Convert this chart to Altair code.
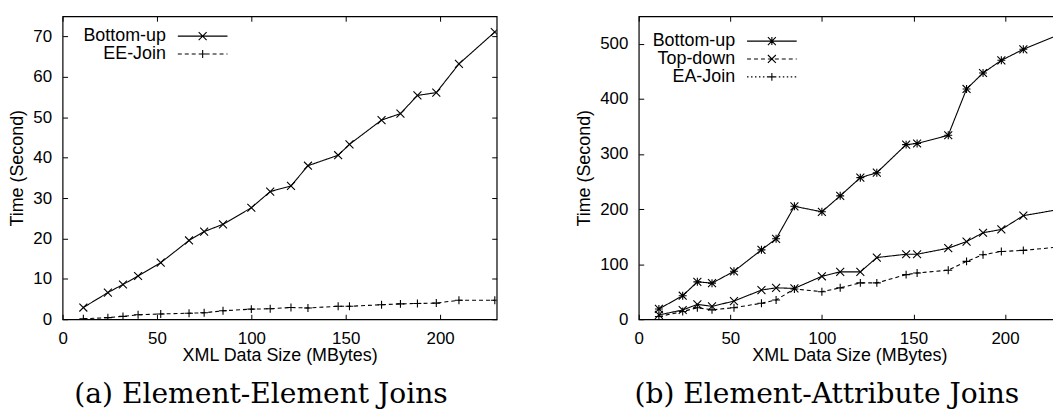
import altair as alt
import pandas as pd

# ---------------- data ----------------
x_sizes = [11, 24, 32, 40, 52, 67, 75, 85, 100, 110, 121, 130, 146, 152, 169, 179, 188, 198, 210, 229]

ee_series = ["Bottom-up", "EE-Join"]
ee_bottom_up = [2.9, 6.6, 8.6, 10.7, 14.0, 19.5, 21.7, 23.5, 27.6, 31.6, 33.0, 38.0, 40.6, 43.3, 49.3, 50.9, 55.4, 56.1, 63.2, 71.1]
ee_join = [0.1, 0.4, 0.7, 1.1, 1.3, 1.5, 1.6, 2.1, 2.5, 2.6, 2.9, 2.8, 3.2, 3.2, 3.6, 3.8, 3.9, 4.0, 4.7, 4.7]

ea_series = ["Bottom-up", "Top-down", "EA-Join"]
ea_bottom_up = [18.7, 42.7, 67.9, 65.5, 87, 126, 146, 205, 195, 224, 257, 266, 317, 319, 334, 418, 447, 470, 490, 516]
ea_top_down = [7.8, 16.8, 27, 23.4, 33, 53, 57, 56, 78, 86, 86, 112, 118, 118, 129, 141, 157, 163, 188, 199]
ea_join = [4.9, 14, 21, 17, 21, 29, 35, 55, 50, 57, 66, 66, 81, 84, 89, 105, 117, 123, 125, 131]

x_ticks = [0, 50, 100, 150, 200]
ee_y_ticks = [0, 10, 20, 30, 40, 50, 60, 70]
ea_y_ticks = [0, 100, 200, 300, 400, 500]

# ---------------- styling helpers ----------------
SANS = "Liberation Sans"
SERIF = "DejaVu Serif"

CROSS = "M-1,-1L1,1M-1,1L1,-1"
PLUS = "M-1,0L1,0M0,-1L0,1"
STAR = CROSS + PLUS

SOLID = [1, 0]
DASHED = [4, 3]
DOTTED = [1.5, 2.5]

# legend symbol: symbolSize 100 -> 1 path unit = 5 px; symbol centre sits 9 px
# right of the legend origin, labels are right-aligned at 18 px.
UNIT = 5.0
LINE_START = 21.0   # px right of symbol centre
LINE_LEN = 50.0
MK_HALF = 4.0


def sample_line(dash):
    a, b = LINE_START / UNIT, (LINE_START + LINE_LEN) / UNIT
    if dash is None:
        return f"M{a:.3f},0L{b:.3f},0"
    on, off = dash[0] / UNIT, dash[1] / UNIT
    parts = []
    p = a
    while p < b:
        q = min(p + on, b)
        parts.append(f"M{p:.3f},0L{q:.3f},0")
        p = q + off
    return "".join(parts)


def mk_cross():
    c = (LINE_START + LINE_LEN / 2) / UNIT
    m = MK_HALF / UNIT
    return f"M{c - m:.3f},{-m:.3f}L{c + m:.3f},{m:.3f}M{c - m:.3f},{m:.3f}L{c + m:.3f},{-m:.3f}"


def mk_plus():
    c = (LINE_START + LINE_LEN / 2) / UNIT
    m = MK_HALF / UNIT
    return f"M{c - m:.3f},0L{c + m:.3f},0M{c:.3f},{-m:.3f}L{c:.3f},{m:.3f}"


def long_df(names, values):
    rows = []
    for name, vals in zip(names, values):
        for x, y in zip(x_sizes, vals):
            rows.append({"size": x, "time": y, "series": name})
    return pd.DataFrame(rows)


def panel(df, names, dashes, markers, legend_paths, ydomain, yticks,
          width, height, caption, legend_x, legend_y, right_axis=True, cap_dx=0):
    xscale = alt.Scale(domain=[0, 230], nice=False, zero=False)
    yscale = alt.Scale(domain=ydomain, nice=False, zero=False)
    base = alt.Chart(df)

    lines = base.mark_line(color="black", strokeWidth=1.1, clip=True).encode(
        x=alt.X("size:Q", scale=xscale, title="XML Data Size (MBytes)",
                axis=alt.Axis(orient="bottom", values=x_ticks, offset=-5, tickSize=5,
                              domain=False, grid=False, labelPadding=11, titlePadding=1,
                              labelFlush=False)),
        y=alt.Y("time:Q", scale=yscale, title="Time (Second)",
                axis=alt.Axis(orient="left", values=yticks, offset=-5, tickSize=5,
                              domain=False, grid=False, labelPadding=11, titlePadding=6,
                              labelFlush=False)),
        strokeDash=alt.StrokeDash("series:N", scale=alt.Scale(domain=names, range=dashes), legend=None),
    )

    points = base.mark_point(color="black", filled=False, size=64, strokeWidth=1.1,
                             opacity=1, clip=True).encode(
        x=alt.X("size:Q", scale=xscale, title=None,
                axis=alt.Axis(orient="top", values=x_ticks, offset=-5, tickSize=5,
                              domain=False, grid=False, labels=False)),
        y=alt.Y("time:Q", scale=yscale, title=None,
                axis=alt.Axis(orient="right", values=yticks, offset=-5, tickSize=5,
                              domain=False, grid=False, labels=False) if right_axis else None),
        shape=alt.Shape("series:N", scale=alt.Scale(domain=names, range=markers), legend=None),
    )

    legend_layer = base.transform_filter("false").mark_point(
        color="black", filled=False, strokeWidth=1.1, opacity=1).encode(
        x=alt.X("size:Q", scale=xscale, axis=None),
        y=alt.Y("time:Q", scale=yscale, axis=None),
        shape=alt.Shape("series:N", scale=alt.Scale(domain=names, range=legend_paths),
                        legend=alt.Legend(title=None, orient="none", legendX=legend_x,
                                          legendY=legend_y, labelAlign="right",
                                          labelOffset=0, symbolOffset=0, symbolSize=100,
                                          rowPadding=0, padding=0,
                                          labelFont=SANS, labelFontSize=18,
                                          labelColor="black", symbolStrokeWidth=1.1,
                                          labelLimit=300)),
    )

    return alt.layer(lines, points, legend_layer).resolve_scale(
        shape="independent"
    ).resolve_axis(x="independent", y="independent").properties(
        width=width, height=height,
        title=alt.TitleParams(caption, orient="bottom", font=SERIF, fontSize=28.3,
                              fontWeight="normal", color="black", anchor="middle",
                              frame="bounds", offset=16, dx=cap_dx),
    )


ee_df = long_df(ee_series, [ee_bottom_up, ee_join])
ea_df = long_df(ea_series, [ea_bottom_up, ea_top_down, ea_join])

left = panel(
    ee_df, ee_series, [SOLID, DASHED], [CROSS, PLUS],
    [sample_line(None) + mk_cross(), sample_line(DASHED) + mk_plus()],
    [0, 75], ee_y_ticks, 437, 305, "(a) Element-Element Joins", 86, 11,
    cap_dx=8,
)

right = panel(
    ea_df, ea_series, [SOLID, DASHED, DOTTED], [STAR, CROSS, PLUS],
    [sample_line(None) + mk_cross() + mk_plus(),
     sample_line(DASHED) + mk_cross(),
     sample_line(DOTTED) + mk_plus()],
    [0, 550], ea_y_ticks, 424, 305, "(b) Element-Attribute Joins", 79, 16,
    right_axis=False, cap_dx=9,
)

chart = alt.hconcat(left, right, spacing=77).properties(
    padding={"left": 8, "top": 13, "right": -8, "bottom": 0},
    background="white",
).configure_axis(
    labelFont=SANS, labelFontSize=17, labelColor="black",
    titleFont=SANS, titleFontSize=18, titleFontWeight="normal", titleColor="black",
    tickColor="black", tickWidth=1,
).configure_view(stroke="black", strokeWidth=1.2)

chart.save("out.html", embed_options={"renderer": "svg", "actions": False})
